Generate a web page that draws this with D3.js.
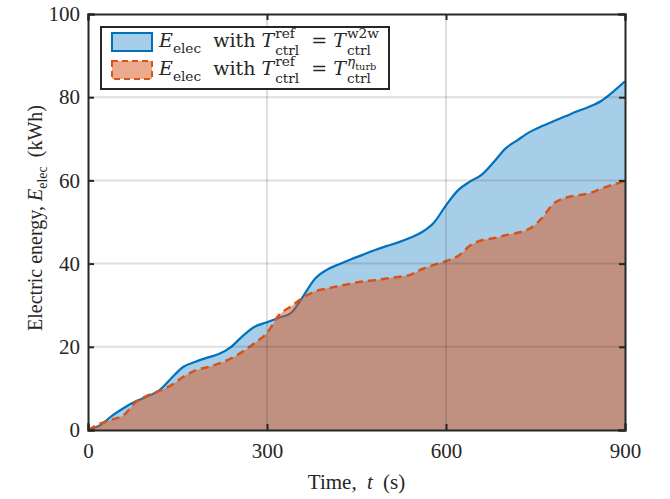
<!DOCTYPE html>
<html>
<head>
<meta charset="utf-8">
<script src="https://cdn.jsdelivr.net/npm/d3@7"></script>
<style>
  body { margin: 0; background: #fff; }
  svg text { fill: #262626; }
</style>
</head>
<body>
<svg id="chart"></svg>
<script>
// time axis (s)
const time = [0, 20, 40, 60, 80, 100, 120, 140, 160, 180, 200, 220, 240, 260, 280, 300,
  320, 340, 360, 380, 400, 420, 440, 460, 480, 500, 520, 540, 560, 580, 600,
  620, 640, 660, 680, 700, 720, 740, 760, 780, 800, 820, 840, 860, 880, 900];

// E_elec with T_ref = T_w2w (kWh)
const eW2w = [0, 1.1, 3.4, 5.3, 6.9, 8.1, 9.6, 12.5, 15.2, 16.4, 17.4, 18.3, 20.0, 22.7, 24.9, 25.9,
  27.0, 28.1, 32.0, 36.3, 38.5, 39.8, 41.0, 42.1, 43.2, 44.2, 45.1, 46.2, 47.6, 49.9, 54.0,
  57.6, 59.7, 61.4, 64.4, 67.7, 69.7, 71.6, 73.0, 74.2, 75.4, 76.6, 77.7, 79.1, 81.3, 83.8];

// E_elec with T_ref = T_eta_turb (kWh)
const eTurb = [0, 1.5, 2.5, 3.6, 6.7, 8.3, 9.4, 10.8, 12.8, 14.3, 15.1, 16.0, 17.2, 18.9, 21.0, 23.3,
  27.6, 29.7, 31.8, 33.3, 34.0, 34.6, 35.2, 35.7, 36.0, 36.4, 36.8, 37.3, 38.7, 39.7, 40.6,
  41.8, 44.3, 45.6, 46.1, 46.8, 47.4, 48.4, 50.8, 54.4, 55.8, 56.4, 56.9, 58.0, 59.0, 59.8];

const xTicks = [0, 300, 600, 900];
const yTicks = [0, 20, 40, 60, 80, 100];

const W = 670, H = 499;
const margin = {top: 14, right: 45, bottom: 69, left: 88};
const width = W - margin.left - margin.right;
const height = H - margin.top - margin.bottom;

const blue = '#0072bd', blueFill = '#a6cee8';
const orange = '#d95319', orangeFill = 'rgb(236,169,140)';
const axisCol = '#262626';
const serif = "'Liberation Serif', 'Times New Roman', serif";
const legFont = "'DejaVu Serif', 'Liberation Serif', serif";

const svg = d3.select('#chart').attr('width', W).attr('height', H)
  .attr('font-family', serif);
const chart = svg.append('g').attr('transform', `translate(${margin.left},${margin.top})`);

const x = d3.scaleLinear().domain([0, 900]).range([0, width]);
const y = d3.scaleLinear().domain([0, 100]).range([height, 0]);

const rowsW = time.map((t, i) => ({t, v: eW2w[i]}));
const rowsT = time.map((t, i) => ({t, v: eTurb[i]}));

const area = d3.area().x(d => x(d.t)).y0(y(0)).y1(d => y(d.v)).curve(d3.curveMonotoneX);
const line = d3.line().x(d => x(d.t)).y(d => y(d.v)).curve(d3.curveMonotoneX);

svg.append('clipPath').attr('id', 'clip')
  .append('rect').attr('width', width).attr('height', height);
const plot = chart.append('g').attr('clip-path', 'url(#clip)');

plot.append('path').datum(rowsW).attr('d', area)
  .attr('fill', blue).attr('fill-opacity', 0.35);
plot.append('path').datum(rowsW).attr('d', line)
  .attr('fill', 'none').attr('stroke', blue).attr('stroke-width', 2.2);
plot.append('path').datum(rowsT).attr('d', area)
  .attr('fill', orange).attr('fill-opacity', 0.5);
plot.append('path').datum(rowsT).attr('d', line)
  .attr('fill', 'none').attr('stroke', orange).attr('stroke-width', 2.5)
  .attr('stroke-dasharray', '8,5');

// grid on top (matlab layer top)
const grid = chart.append('g');
grid.selectAll('.gx').data(xTicks.slice(1, -1)).join('line')
  .attr('x1', d => x(d)).attr('x2', d => x(d)).attr('y1', 0).attr('y2', height)
  .attr('stroke', axisCol).attr('stroke-opacity', 0.15).attr('stroke-width', 2);
grid.selectAll('.gy').data(yTicks.slice(1, -1)).join('line')
  .attr('y1', d => y(d)).attr('y2', d => y(d)).attr('x1', 0).attr('x2', width)
  .attr('stroke', axisCol).attr('stroke-opacity', 0.15).attr('stroke-width', 2);

// axes: inward ticks, mirrored on top/right
const tl = 6;
const xAxisB = d3.axisBottom(x).tickValues(xTicks).tickSize(-tl).tickPadding(13);
const xAxisT = d3.axisTop(x).tickValues(xTicks).tickSize(-tl).tickFormat('');
const yAxisL = d3.axisLeft(y).tickValues(yTicks).tickSize(-tl).tickPadding(8);
const yAxisR = d3.axisRight(y).tickValues(yTicks).tickSize(-tl).tickFormat('');

function styleAxis(g) {
  g.attr('font-family', serif).attr('font-size', 21);
  g.selectAll('.domain').attr('stroke', axisCol).attr('stroke-width', 2);
  g.selectAll('.tick line').attr('stroke', axisCol).attr('stroke-width', 2);
  g.selectAll('.tick text').attr('fill', axisCol);
}
chart.append('g').attr('transform', `translate(0,${height})`).call(xAxisB).call(styleAxis)
  .selectAll('.tick text').attr('dy', '0.71em');
chart.append('g').call(xAxisT).call(styleAxis);
chart.append('g').call(yAxisL).call(styleAxis);
chart.append('g').attr('transform', `translate(${width},0)`).call(yAxisR).call(styleAxis);
chart.selectAll('.domain').attr('stroke-linecap', 'square');

// small helper to lay out math-like text pieces
function mathRun(g, x0, y0, items, size) {
  let cx = x0;
  items.forEach(it => {
    if (it.stack) {
      const a = mathRun(g, cx + 1, y0 + size * 0.4, it.stack, size * 0.72);
      const b = mathRun(g, cx + 1, y0 - size * 0.5, it.sup, size * 0.72);
      cx = Math.max(a, b);
    } else {
      const s = it.sub ? size * 0.72 : size;
      const t = g.append('text').attr('x', cx).attr('y', it.sub ? y0 + size * 0.3 : y0)
        .attr('font-family', legFont)
        .attr('font-size', s)
        .attr('font-style', it.it ? 'italic' : 'normal')
        .attr('xml:space', 'preserve')
        .text(it.s);
      cx += t.node().getComputedTextLength();
    }
  });
  return cx;
}

// axis labels
svg.append('text').attr('x', margin.left + width / 2).attr('y', 489)
  .attr('text-anchor', 'middle').attr('font-size', 21).attr('word-spacing', 5)
  .call(t => {
    t.append('tspan').text('Time, ');
    t.append('tspan').attr('font-style', 'italic').text('t');
    t.append('tspan').text(' (s)');
  });

svg.append('text').attr('transform', 'translate(42,218) rotate(-90)')
  .attr('text-anchor', 'middle').attr('font-size', 20)
  .call(t => {
    t.append('tspan').text('Electric energy, ');
    t.append('tspan').attr('font-style', 'italic').text('E');
    t.append('tspan').attr('font-size', 14).attr('dy', 5).text('elec');
    t.append('tspan').attr('dy', -5).attr('word-spacing', 4).text(' (kWh)');
  });

// legend
const leg = svg.append('g');
leg.append('rect').attr('x', 101).attr('y', 27).attr('width', 288).attr('height', 62)
  .attr('fill', '#fff').attr('stroke', axisCol).attr('stroke-width', 2);
leg.append('rect').attr('x', 112).attr('y', 33).attr('width', 40).attr('height', 18)
  .attr('fill', blueFill).attr('stroke', blue).attr('stroke-width', 2);
leg.append('rect').attr('x', 112).attr('y', 61).attr('width', 40).attr('height', 18)
  .attr('fill', orangeFill).attr('stroke', orange).attr('stroke-width', 2)
  .attr('stroke-dasharray', '6,4');

const ctrl = [{s: 'ctrl'}];
const ref = [{s: 'ref'}];
mathRun(leg, 159, 47, [
  {s: 'E', it: true}, {s: 'elec', sub: true}, {s: '  with '},
  {s: 'T', it: true}, {stack: ctrl, sup: ref}, {s: '  = '},
  {s: 'T', it: true}, {stack: ctrl, sup: [{s: 'w2w'}]}
], 19);
mathRun(leg, 159, 75, [
  {s: 'E', it: true}, {s: 'elec', sub: true}, {s: '  with '},
  {s: 'T', it: true}, {stack: ctrl, sup: ref}, {s: '  = '},
  {s: 'T', it: true}, {stack: ctrl, sup: [{s: 'η', it: true}, {s: 'turb', sub: true}]}
], 19);
</script>
</body>
</html>
